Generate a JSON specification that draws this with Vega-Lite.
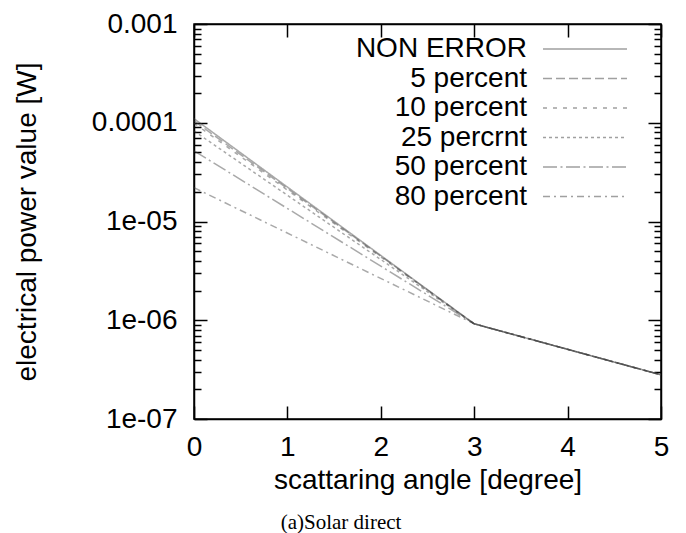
{
  "$schema": "https://vega.github.io/schema/vega-lite/v6.json",
  "width": 467,
  "height": 395,
  "autosize": {"type": "none"},
  "padding": {"left": 194, "top": 24, "right": 25, "bottom": 114},
  "background": "white",
  "config": {
    "view": {"stroke": "#000", "strokeWidth": 1.5},
    "font": "Liberation Sans",
    "axis": {
      "domainColor": "#000", "domainWidth": 1.5, "tickColor": "#000", "tickWidth": 1.5,
      "labelFont": "Liberation Sans", "labelFontSize": 28, "labelColor": "#000",
      "titleFont": "Liberation Sans", "titleFontSize": 28, "titleFontWeight": "normal", "titleColor": "#000",
      "grid": false, "labelFlush": false, "labelOverlap": false
    }
  },
  "title": {"text": "(a)Solar direct", "orient": "bottom", "frame": "bounds", "anchor": "middle", "font": "Liberation Serif", "fontSize": 21, "fontWeight": "normal", "color": "#000", "offset": 18},
  "data": {"values": [
    {"series": "NON ERROR", "angle": 0, "power": 0.00011},
    {"series": "NON ERROR", "angle": 3, "power": 9.2e-7},
    {"series": "NON ERROR", "angle": 5, "power": 2.8e-7},
    {"series": "5 percent", "angle": 0, "power": 0.0001045},
    {"series": "5 percent", "angle": 3, "power": 9.2e-7},
    {"series": "5 percent", "angle": 5, "power": 2.8e-7},
    {"series": "10 percent", "angle": 0, "power": 0.000099},
    {"series": "10 percent", "angle": 3, "power": 9.2e-7},
    {"series": "10 percent", "angle": 5, "power": 2.8e-7},
    {"series": "25 percrnt", "angle": 0, "power": 0.0000825},
    {"series": "25 percrnt", "angle": 3, "power": 9.2e-7},
    {"series": "25 percrnt", "angle": 5, "power": 2.8e-7},
    {"series": "50 percent", "angle": 0, "power": 0.000052},
    {"series": "50 percent", "angle": 3, "power": 9.2e-7},
    {"series": "50 percent", "angle": 5, "power": 2.8e-7},
    {"series": "80 percent", "angle": 0, "power": 0.000022},
    {"series": "80 percent", "angle": 3, "power": 9.2e-7},
    {"series": "80 percent", "angle": 5, "power": 2.8e-7}
  ]},
  "layer": [
    {
      "mark": {"type": "line", "color": "#404040", "opacity": 0.45, "strokeWidth": 1.5},
      "encoding": {
        "x": {"field": "angle", "type": "quantitative", "scale": {"domain": [0, 5], "nice": false},
          "axis": {"orient": "bottom", "title": "scattaring angle [degree]", "values": [0, 1, 2, 3, 4, 5], "tickSize": -13, "labelPadding": 27, "titlePadding": 5}},
        "y": {"field": "power", "type": "quantitative", "scale": {"type": "log", "domain": [0.0000001, 0.001], "nice": false},
          "axis": {"orient": "left", "title": "electrical power value [W]",
            "values": [1e-7, 2e-7, 3e-7, 4e-7, 5e-7, 6e-7, 7e-7, 8e-7, 9e-7, 1e-6, 2e-6, 3e-6, 4e-6, 5e-6, 6e-6, 7e-6, 8e-6, 9e-6, 1e-5, 2e-5, 3e-5, 4e-5, 5e-5, 6e-5, 7e-5, 8e-5, 9e-5, 1e-4, 2e-4, 3e-4, 4e-4, 5e-4, 6e-4, 7e-4, 8e-4, 9e-4, 1e-3],
            "labelExpr": "datum.value == 0.001 ? '0.001' : datum.value == 0.0001 ? '0.0001' : datum.value == 0.00001 ? '1e-05' : datum.value == 0.000001 ? '1e-06' : datum.value == 0.0000001 ? '1e-07' : ''",
            "tickSize": {"condition": {"test": "datum.value == 0.001 || datum.value == 0.0001 || datum.value == 0.00001 || datum.value == 0.000001 || datum.value == 0.0000001", "value": -13}, "value": -7},
            "labelPadding": 30, "titlePadding": 50}},
        "strokeDash": {"field": "series", "type": "nominal",
          "scale": {"domain": ["NON ERROR", "5 percent", "10 percent", "25 percrnt", "50 percent", "80 percent"],
            "range": [[1, 0], [9, 4], [4, 6], [3, 3], [14, 3.5, 2, 3.5], [7, 4, 2, 4]]},
          "legend": {"orient": "none", "legendX": 376, "legendY": 10, "title": null, "symbolType": "M-3,0H3", "symbolSize": 784,
            "symbolStrokeWidth": 1.5, "symbolStrokeColor": "#a0a0a0", "symbolFillColor": "transparent", "symbolOpacity": 1, "labelFontSize": 28, "labelFont": "Liberation Sans",
            "labelColor": "#000", "labelAlign": "right", "labelOffset": -73, "rowPadding": 0.5, "padding": 0, "labelLimit": 0}}
      }
    },
    {
      "mark": {"type": "point", "opacity": 0, "size": 0},
      "encoding": {
        "x": {"field": "angle", "type": "quantitative", "scale": {"domain": [0, 5], "nice": false},
          "axis": {"orient": "top", "title": null, "labels": false, "values": [0, 1, 2, 3, 4, 5], "tickSize": -13}},
        "y": {"field": "power", "type": "quantitative", "scale": {"type": "log", "domain": [0.0000001, 0.001], "nice": false},
          "axis": {"orient": "right", "title": null, "labels": false,
            "values": [1e-7, 2e-7, 3e-7, 4e-7, 5e-7, 6e-7, 7e-7, 8e-7, 9e-7, 1e-6, 2e-6, 3e-6, 4e-6, 5e-6, 6e-6, 7e-6, 8e-6, 9e-6, 1e-5, 2e-5, 3e-5, 4e-5, 5e-5, 6e-5, 7e-5, 8e-5, 9e-5, 1e-4, 2e-4, 3e-4, 4e-4, 5e-4, 6e-4, 7e-4, 8e-4, 9e-4, 1e-3],
            "tickSize": {"condition": {"test": "datum.value == 0.001 || datum.value == 0.0001 || datum.value == 0.00001 || datum.value == 0.000001 || datum.value == 0.0000001", "value": -13}, "value": -7}}}
      }
    }
  ],
  "resolve": {"axis": {"x": "independent", "y": "independent"}}
}
